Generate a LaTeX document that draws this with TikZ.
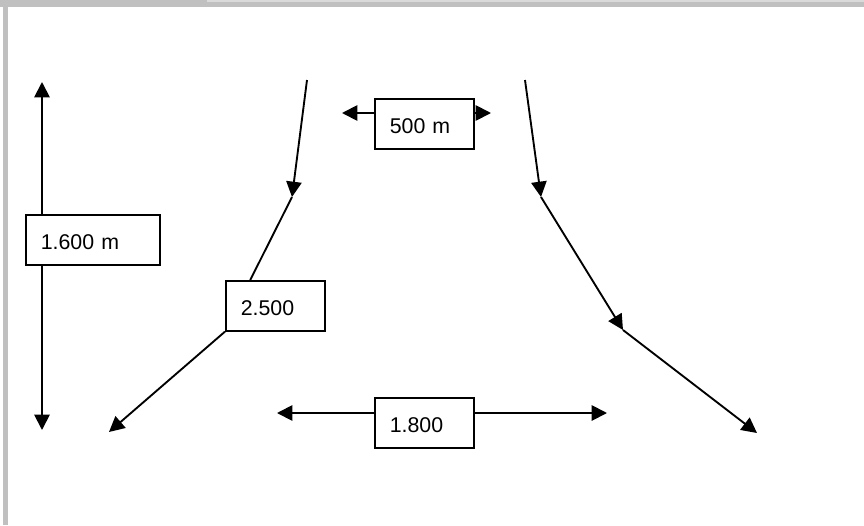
\documentclass[tikz,border=0pt]{standalone}
\usepackage{fontspec}
\setmainfont{Liberation Sans}
\usetikzlibrary{arrows.meta,calc}
\definecolor{framegray}{RGB}{192,192,192}
\definecolor{tabgray}{RGB}{218,218,218}
\tikzset{
  lbl/.style={draw,rectangle,line width=1.2pt,minimum height=37.5pt,inner xsep=11.25pt,text height=17pt,text depth=2pt,align=left,anchor=north west,font=\fontsize{16}{19}\selectfont},
  arr/.style={-{Triangle[length=11.5pt,width=11.5pt]},line width=1.4pt},
}
\begin{document}
\begin{tikzpicture}[x=0.75pt,y=-0.75pt]
\useasboundingbox (0,0) rectangle (864,525);
\fill[framegray] (0,0) rectangle (864,7);
\fill[tabgray] (207,0) rectangle (864,2);
\fill[framegray] (3,0) rectangle (8,525);
\node[lbl,text width=78pt] (len) at (25,214) {1.600 m};
\node[lbl,text width=52pt] (wdt) at (374,98) {500 m};
\node[lbl,text width=52pt] (dia) at (225,280) {2.500};
\node[lbl,text width=52pt] (gap) at (374,397) {1.800};
\coordinate (ltop) at (307,80);
\coordinate (lbend) at (292,197);
\coordinate (lend) at (109,432);
\coordinate (rtop) at (525,80);
\coordinate (rbend) at (541,197);
\coordinate (rmid) at (623,330);
\coordinate (rend) at (757,433);
\coordinate (vtop) at (42,82);
\coordinate (vbot) at (42,430);
\coordinate (wl) at (342,113);
\coordinate (wr) at (491,113);
\coordinate (gl) at (277,413);
\coordinate (gr) at (607,413);
% left road
\draw[arr] (ltop) -- (lbend);
\draw[line width=1.4pt] (lbend) -- ($(dia.north west)!0.25!(dia.north east)$);
\draw[arr] (dia.south west) -- (lend);
% right road
\draw[arr] (rtop) -- (rbend);
\draw[arr] (rbend) -- (rmid);
\draw[arr] (rmid) -- (rend);
% distances
\draw[arr] (len.north -| vtop) -- (vtop);
\draw[arr] (len.south -| vbot) -- (vbot);
\draw[arr] (wdt.west |- wl) -- (wl);
\draw[arr] (wdt.east |- wr) -- (wr);
\draw[arr] (gap.west |- gl) -- (gl);
\draw[arr] (gap.east |- gr) -- (gr);
\end{tikzpicture}
\end{document}
